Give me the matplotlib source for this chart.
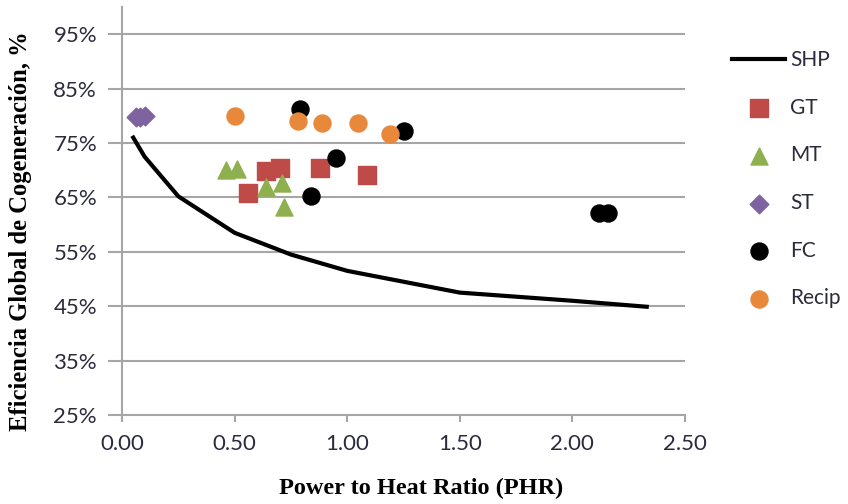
"""Eficiencia global de cogeneración frente a la relación potencia/calor (PHR)."""

import matplotlib.pyplot as plt
from matplotlib.ticker import FuncFormatter, MultipleLocator

# Curva de referencia SHP (producción separada de calor y electricidad)
shp_x = [0.05, 0.10, 0.25, 0.50, 0.75, 1.00, 1.50, 2.00, 2.33]
shp_y = [0.760, 0.725, 0.652, 0.585, 0.545, 0.515, 0.475, 0.460, 0.449]

# Tecnologías (PHR, eficiencia)
gt_x = [0.56, 0.64, 0.70, 0.88, 1.09]
gt_y = [0.658, 0.699, 0.705, 0.705, 0.691]

mt_x = [0.46, 0.51, 0.64, 0.71, 0.72]
mt_y = [0.700, 0.702, 0.670, 0.676, 0.632]

st_x = [0.06, 0.08, 0.10]
st_y = [0.798, 0.798, 0.800]

fc_x = [0.79, 0.84, 0.95, 1.25, 2.12, 2.16]
fc_y = [0.812, 0.653, 0.722, 0.772, 0.621, 0.621]

recip_x = [0.50, 0.78, 0.89, 1.05, 1.19]
recip_y = [0.800, 0.790, 0.787, 0.787, 0.766]

TICK_COLOR = "#2b2b3b"
GRID_COLOR = "#a6a6a6"


def main() -> None:
    fig = plt.figure(figsize=(8.48, 5.04), dpi=100)
    ax = fig.add_axes([0.1439, 0.1766, 0.6639, 0.8094])

    ax.plot(shp_x, shp_y, color="black", linewidth=3, label="SHP", zorder=3)
    ms = 150
    ax.scatter(gt_x, gt_y, marker="s", s=ms, color="#BE4B48", label="GT", zorder=4)
    ax.scatter(mt_x, mt_y, marker="^", s=ms, color="#8FB04E", label="MT", zorder=4)
    ax.scatter(st_x, st_y, marker="D", s=90, color="#7F62A0", label="ST", zorder=4)
    ax.scatter(fc_x, fc_y, marker="o", s=ms, color="black", label="FC", zorder=4)
    ax.scatter(recip_x, recip_y, marker="o", s=ms, color="#E8883A", label="Recip", zorder=5)

    ax.set_xlim(0, 2.5)
    ax.set_ylim(0.25, 1.0)
    ax.xaxis.set_major_locator(MultipleLocator(0.5))
    ax.set_yticks([0.25, 0.35, 0.45, 0.55, 0.65, 0.75, 0.85, 0.95])
    ax.xaxis.set_major_formatter(FuncFormatter(lambda v, _: f"{v:.2f}"))
    ax.yaxis.set_major_formatter(FuncFormatter(lambda v, _: f"{v * 100:.0f}%"))

    ax.grid(axis="y", color=GRID_COLOR, linewidth=1.5)
    ax.set_axisbelow(True)
    for side in ("top", "right"):
        ax.spines[side].set_visible(False)
    for side in ("left", "bottom"):
        ax.spines[side].set_color(GRID_COLOR)
        ax.spines[side].set_linewidth(1.5)
    ax.tick_params(axis="both", color=GRID_COLOR, width=1.5,
                   labelsize=16, labelcolor=TICK_COLOR)
    ax.tick_params(axis="y", length=10, pad=8)
    ax.tick_params(axis="x", length=5, pad=9)
    for lab in ax.get_xticklabels() + ax.get_yticklabels():
        lab.set_family("Lato")

    ax.set_xlabel("Power to Heat Ratio (PHR)", family="Liberation Serif",
                  fontweight="bold", fontsize=17.5)
    ax.xaxis.set_label_coords(0.531, -0.154)
    ax.set_ylabel("Eficiencia Global de Cogeneración, %", family="Liberation Serif",
                  fontweight="bold", fontsize=17.7)
    ax.yaxis.set_label_coords(-0.160, 0.451)

    fig.legend(loc="upper left", bbox_to_anchor=(0.8632, 0.901), frameon=False,
               borderpad=0, borderaxespad=0,
               labelspacing=1.33, handlelength=2.55, handletextpad=0.24,
               prop={"family": "Lato", "size": 15}, labelcolor=TICK_COLOR)

    fig.savefig("out.png", dpi=100)


if __name__ == "__main__":
    main()
